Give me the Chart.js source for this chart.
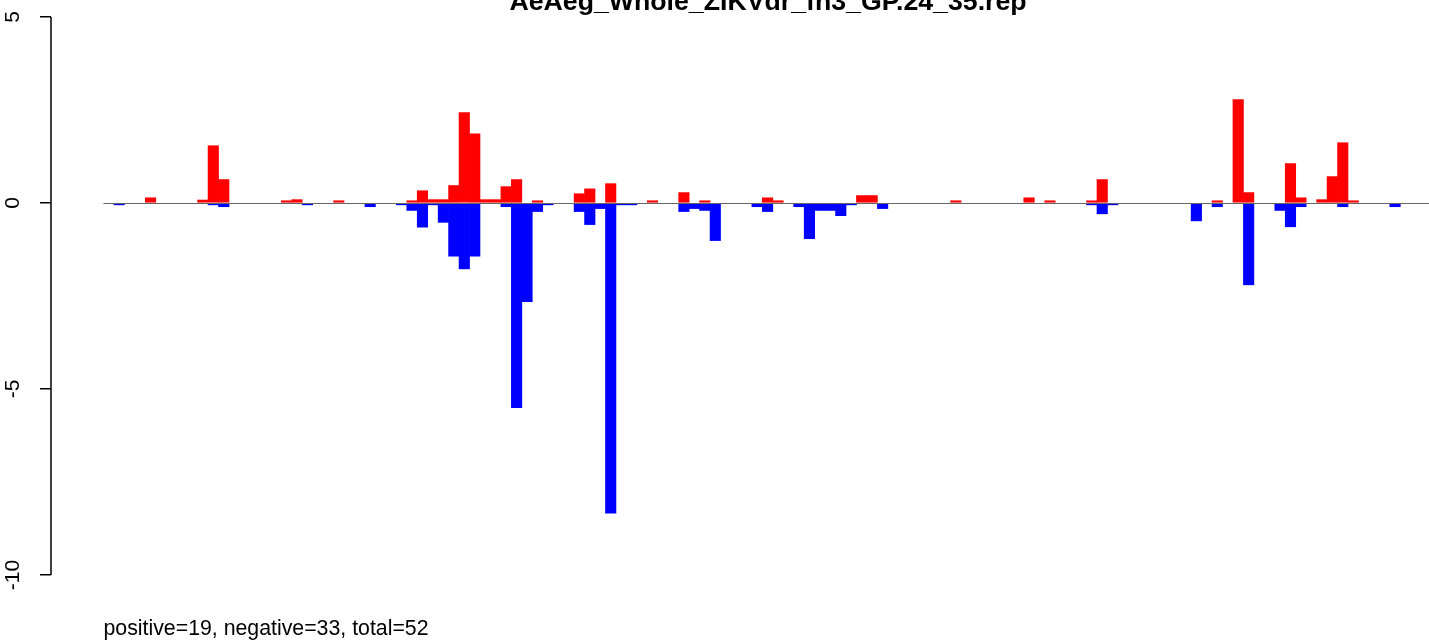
<!DOCTYPE html>
<html>
<head>
<meta charset="utf-8">
<script src="https://cdn.jsdelivr.net/npm/chart.js@4.4.1/dist/chart.umd.min.js"></script>
<style>
  html, body { margin: 0; padding: 0; background: #fff; }
  canvas { display: block; }
</style>
</head>
<body>
<canvas id="chart" width="1429" height="641"></canvas>
<script>
const titleText = "AeAeg_Whole_ZIKVdr_fh3_GP.24_35.rep";
const footerText = "positive=19, negative=33, total=52";
const yTicks = [5, 0, -5, -10];

// one value per position (126 positions), 0 means no bar
const positive = [
  0, 0, 0, 0, 0.14, 0, 0, 0, 0, 0.08, 1.54, 0.63, 0, 0,
  0, 0, 0, 0.06, 0.09, 0, 0, 0, 0.06, 0, 0, 0, 0, 0,
  0, 0.06, 0.33, 0.09, 0.09, 0.47, 2.43, 1.86, 0.09, 0.09, 0.44, 0.63, 0, 0.06,
  0, 0, 0, 0.25, 0.38, 0, 0.52, 0, 0, 0, 0.06, 0, 0, 0.28,
  0, 0.06, 0, 0, 0, 0, 0, 0.14, 0.06, 0, 0, 0, 0, 0,
  0, 0, 0.2, 0.2, 0, 0, 0, 0, 0, 0, 0, 0.06, 0, 0,
  0, 0, 0, 0, 0.14, 0, 0.06, 0, 0, 0, 0.06, 0.63, 0, 0,
  0, 0, 0, 0, 0, 0, 0, 0, 0.06, 0, 2.78, 0.28, 0, 0,
  0, 1.06, 0.14, 0, 0.09, 0.71, 1.62, 0.06, 0, 0, 0, 0, 0, 0
];
const negative = [
  0, -0.05, 0, 0, 0, 0, 0, 0, 0, 0, -0.05, -0.1, 0, 0,
  0, 0, 0, 0, 0, -0.05, 0, 0, 0, 0, 0, -0.1, 0, 0,
  -0.05, -0.2, -0.65, -0.05, -0.52, -1.43, -1.77, -1.43, 0, 0, -0.1, -5.5, -2.65, -0.23,
  -0.05, 0, 0, -0.23, -0.58, -0.15, -8.34, -0.05, -0.05, 0, 0, 0, 0, -0.23,
  -0.15, -0.2, -1.01, 0, 0, 0, -0.1, -0.23, 0, 0, -0.1, -0.96, -0.2, -0.2,
  -0.34, -0.05, 0, 0, -0.15, 0, 0, 0, 0, 0, 0, 0, 0, 0,
  0, 0, 0, 0, 0, 0, 0, 0, 0, 0, -0.05, -0.29, -0.05, 0,
  0, 0, 0, 0, 0, 0, -0.48, 0, -0.1, 0, 0, -2.2, 0, 0,
  -0.2, -0.64, -0.1, 0, 0, 0, -0.1, 0, 0, 0, 0, -0.1, 0, 0
];

const FONT = '"Liberation Sans", Arial, Helvetica, sans-serif';

// bar i covers [i, i+1] like barplot(space = 0)
function toPoints(values) {
  return values.map((v, i) => ({ x: i + 0.5, y: v === 0 ? null : v }));
}

// zero line, axis line, title and footer in the R style
const rDecor = {
  id: 'rDecor',
  afterDatasetsDraw(chart) {
    const { ctx, chartArea, scales: { x, y } } = chart;
    const y0 = Math.round(y.getPixelForValue(0)) + 0.5;
    ctx.save();
    ctx.strokeStyle = '#666666';
    ctx.lineWidth = 1;
    ctx.beginPath();
    ctx.moveTo(x.getPixelForValue(0), y0);
    ctx.lineTo(chartArea.right, y0);
    ctx.stroke();
    ctx.restore();
  },
  afterDraw(chart) {
    const { ctx, scales: { x, y } } = chart;
    ctx.save();
    // y axis line only between first and last tick
    ctx.strokeStyle = '#000';
    ctx.lineWidth = 1.5;
    ctx.beginPath();
    ctx.moveTo(y.right, y.getPixelForValue(Math.max(...yTicks)));
    ctx.lineTo(y.right, y.getPixelForValue(Math.min(...yTicks)));
    ctx.stroke();

    ctx.fillStyle = '#000';
    ctx.font = 'bold 26.7px ' + FONT;
    ctx.textAlign = 'center';
    ctx.textBaseline = 'alphabetic';
    ctx.fillText(titleText, 768, 10);

    ctx.font = '21.3px ' + FONT;
    ctx.textAlign = 'left';
    ctx.fillText(footerText, x.getPixelForValue(0), 635);
    ctx.restore();
  }
};

new Chart(document.getElementById('chart'), {
  type: 'bar',
  data: {
    datasets: [
      {
        label: 'positive',
        data: toPoints(positive),
        backgroundColor: '#ff0000',
        borderWidth: 0
      },
      {
        label: 'negative',
        data: toPoints(negative),
        backgroundColor: '#0000ff',
        borderWidth: 0
      }
    ]
  },
  options: {
    responsive: false,
    animation: false,
    events: [],
    layout: { padding: { left: 0, right: 0, top: 0, bottom: 41 } },
    datasets: {
      bar: { grouped: false, barPercentage: 1, categoryPercentage: 1 }
    },
    plugins: {
      legend: { display: false },
      title: { display: false },
      tooltip: { enabled: false }
    },
    scales: {
      x: {
        type: 'linear',
        display: false,
        offset: false,
        min: -5.02,
        max: 126.745
      },
      y: {
        min: -10.672,
        max: 5.457,
        afterBuildTicks: (s) => { s.ticks = yTicks.map(v => ({ value: v })); },
        afterFit: (s) => {
          s.width = 51;
          s.paddingTop = 0;
          s.paddingBottom = 0;
        },
        border: { display: false },
        grid: {
          drawOnChartArea: false,
          drawTicks: true,
          tickLength: 11,
          color: '#000',
          lineWidth: 1.5
        },
        ticks: {
          autoSkip: false,
          minRotation: 90,
          maxRotation: 90,
          crossAlign: 'center',
          padding: 12,
          color: '#000',
          font: { family: FONT, size: 21 }
        }
      }
    }
  },
  plugins: [rDecor]
});
</script>
</body>
</html>
